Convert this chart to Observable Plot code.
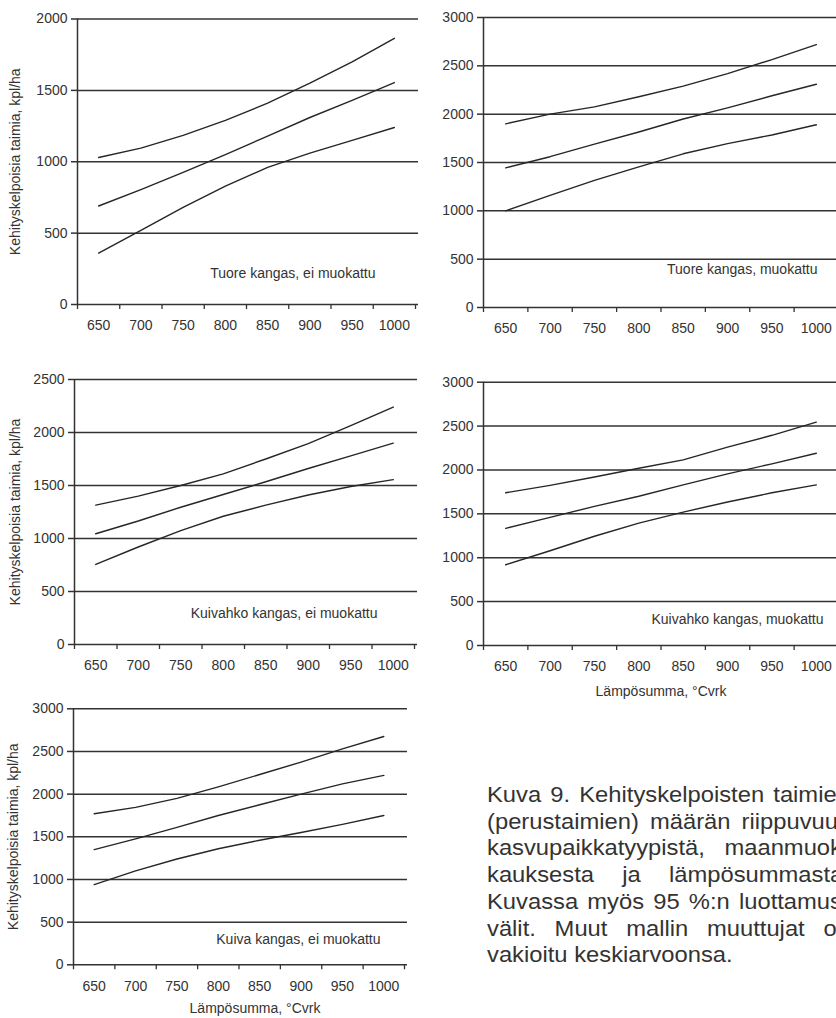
<!DOCTYPE html>
<html><head><meta charset="utf-8">
<script src="https://cdn.jsdelivr.net/npm/d3@7"></script>
<script src="https://cdn.jsdelivr.net/npm/@observablehq/plot@0.6"></script>
<style>
body{margin:0;background:#fff;}
#page{position:relative;width:836px;height:1018px;overflow:hidden;background:#fff;font-family:"Liberation Sans",Arial,sans-serif;color:#333;}
.panel{position:absolute;}
.panel svg{max-width:none !important;}
#caption{position:absolute;left:487px;top:782px;font-size:22px;line-height:26.7px;transform:scaleX(1.08);transform-origin:0 0;color:#333;}
#caption div{width:336px;text-align:justify;text-align-last:justify;}
#caption div.last{text-align-last:left;}
</style></head><body><div id="page"></div>
<script>
// ---- data ----
const lampo = [650, 700, 750, 800, 850, 900, 950, 1000];      // Lämpösumma categories
const xTickEdges = [625, 675, 725, 775, 825, 875, 925, 975, 1025];
const yTicks = [0, 500, 1000, 1500, 2000, 2500, 3000];

// Tuore kangas, ei muokattu
const tuoreEiYla = [1030, 1095, 1185, 1290, 1410, 1550, 1700, 1865];
const tuoreEiKa  = [690, 805, 925, 1050, 1180, 1310, 1430, 1555];
const tuoreEiAla = [360, 520, 680, 830, 960, 1060, 1150, 1240];
// Tuore kangas, muokattu
const tuoreMYla = [1900, 2000, 2075, 2180, 2290, 2420, 2565, 2720];
const tuoreMKa  = [1445, 1560, 1690, 1815, 1950, 2065, 2190, 2310];
const tuoreMAla = [1000, 1160, 1315, 1455, 1590, 1695, 1785, 1890];
// Kuivahko kangas, ei muokattu
const kuivahkoEiYla = [1315, 1400, 1500, 1610, 1750, 1895, 2065, 2240];
const kuivahkoEiKa  = [1045, 1165, 1295, 1415, 1535, 1660, 1780, 1900];
const kuivahkoEiAla = [755, 920, 1075, 1210, 1315, 1410, 1490, 1555];
// Kuivahko kangas, muokattu
const kuivahkoMYla = [1740, 1825, 1920, 2020, 2115, 2260, 2395, 2545];
const kuivahkoMKa  = [1335, 1460, 1585, 1700, 1830, 1955, 2070, 2190];
const kuivahkoMAla = [920, 1080, 1245, 1395, 1520, 1635, 1740, 1830];
// Kuiva kangas, ei muokattu
const kuivaEiYla = [1770, 1845, 1950, 2085, 2230, 2375, 2530, 2675];
const kuivaEiKa  = [1350, 1475, 1610, 1750, 1875, 2000, 2120, 2220];
const kuivaEiAla = [940, 1100, 1240, 1360, 1460, 1550, 1645, 1750];

const panelLabels = ["Tuore kangas, ei muokattu", "Tuore kangas, muokattu",
  "Kuivahko kangas, ei muokattu", "Kuivahko kangas, muokattu", "Kuiva kangas, ei muokattu"];
const yMaxes = [2000, 3000, 2500, 3000, 3000];
const yTitle = "Kehityskelpoisia taimia, kpl/ha";
const xTitle = "Lämpösumma, °Cvrk";
const captionLines = ["Kuva 9. Kehityskelpoisten taimien", "(perustaimien) määrän riippuvuus",
  "kasvupaikkatyypistä, maanmuok-", "kauksesta ja lämpösummasta.", "Kuvassa myös 95 %:n luottamus-",
  "välit. Muut mallin muuttujat on", "vakioitu keskiarvoonsa."];

const seriesSets = [
  [tuoreEiAla, tuoreEiKa, tuoreEiYla],
  [tuoreMAla, tuoreMKa, tuoreMYla],
  [kuivahkoEiAla, kuivahkoEiKa, kuivahkoEiYla],
  [kuivahkoMAla, kuivahkoMKa, kuivahkoMYla],
  [kuivaEiAla, kuivaEiKa, kuivaEiYla]
];

// ---- layout ----
const layouts = [
  {left:0, top:0, width:420, height:340, ml:77, mr:5, mt:18.5, mb:36, ldx:-40, ldy:-27, yt:67},
  {left:400, top:0, width:450, height:340, ml:83, mr:12, mt:17, mb:33, ldx:-21, ldy:-34},
  {left:0, top:350, width:420, height:330, ml:74, mr:6, mt:29, mb:36, ldx:-37, ldy:-27, yt:64},
  {left:400, top:350, width:450, height:360, ml:83, mr:12, mt:31.7, mb:65, ldx:-15, ldy:-22, xt:{dx:0, dy:50}},
  {left:0, top:680, width:420, height:338, ml:73, mr:16, mt:28.3, mb:53.7, ldx:-24, ldy:-21, yt:65, xt:{dx:16, dy:48}}
];

const page = document.getElementById("page");
const ink = "#333";

layouts.forEach((L, k) => {
  const ymax = yMaxes[k];
  const data = [];
  seriesSets[k].forEach((vals, si) => vals.forEach((v, i) => data.push({x: lampo[i], y: v, s: si})));
  const ticks = yTicks.filter(t => t <= ymax);
  const marks = [
    Plot.ruleY(ticks, {stroke: "#333", strokeWidth: 1.5, insetRight: -3}),
    Plot.ruleX([625], {stroke: "#333", strokeWidth: 1.5}),
    Plot.axisY({ticks, tickSize: 6, tickPadding: 4, tickFormat: d => String(d), strokeWidth: 1.5,
      label: L.yt ? yTitle : null, labelAnchor: "center", labelOffset: L.yt || 0, labelArrow: "none"}),
    Plot.axisX({ticks: xTickEdges, tickSize: 5, tickFormat: () => "", label: null, strokeWidth: 1.3}),
    Plot.axisX({ticks: lampo, tickSize: 0, tickPadding: 16, tickFormat: d => String(d), label: null}),
    Plot.line(data, {x: "x", y: "y", z: "s", stroke: "#262626", strokeWidth: 1.4}),
    Plot.text([panelLabels[k]], {text: d => d, frameAnchor: "bottom-right", textAnchor: "end", dx: L.ldx, dy: L.ldy})
  ];
  if (L.xt) marks.push(Plot.text([xTitle], {text: d => d, frameAnchor: "bottom", dx: L.xt.dx, dy: L.xt.dy}));
  const svg = Plot.plot({
    width: L.width, height: L.height,
    marginLeft: L.ml, marginRight: L.mr, marginTop: L.mt, marginBottom: L.mb,
    x: {domain: [625, 1025]},
    y: {domain: [0, ymax]},
    style: {fontFamily: '"Liberation Sans", Arial, sans-serif', fontSize: "14px", color: ink, background: "transparent", overflow: "visible", maxWidth: "none"},
    marks
  });
  const wrap = document.createElement("div");
  wrap.className = "panel";
  wrap.style.left = L.left + "px";
  wrap.style.top = L.top + "px";
  wrap.style.width = L.width + "px";
  wrap.style.height = L.height + "px";
  wrap.appendChild(svg);
  page.appendChild(wrap);
});

const cap = document.createElement("div");
cap.id = "caption";
captionLines.forEach((t, i) => {
  const d = document.createElement("div");
  d.textContent = t;
  if (i === captionLines.length - 1) d.className = "last";
  cap.appendChild(d);
});
page.appendChild(cap);
</script>
</body></html>
